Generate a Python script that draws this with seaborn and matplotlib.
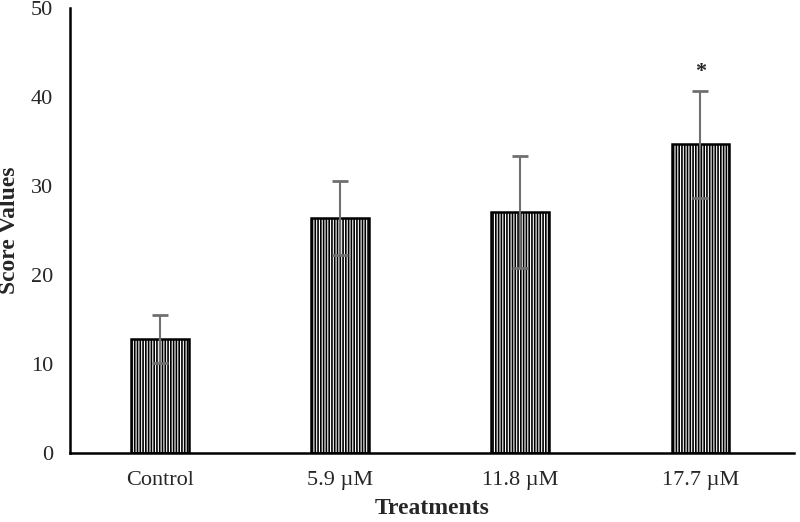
import pandas as pd
import matplotlib
matplotlib.use("Agg")
import matplotlib.pyplot as plt
import seaborn as sns

treatments = ["Control", "5.9 µM", "11.8 µM", "17.7 µM"]
scores = [12.8, 26.4, 27.1, 34.7]
errors = [2.7, 4.2, 6.3, 6.0]
signif = ["", "", "", "*"]

df = pd.DataFrame({"Treatments": treatments, "Score": scores})

sns.set_style("white")
plt.rcParams["font.family"] = ["Liberation Serif", "DejaVu Serif"]
plt.rcParams["hatch.linewidth"] = 1.2

fig = plt.figure(figsize=(8, 5.22), dpi=100)
ax = fig.add_axes([0.0875, 0.132, 0.905, 0.853])

sns.barplot(data=df, x="Treatments", y="Score", color="white", width=0.32,
            edgecolor="black", linewidth=1.8, errorbar=None, ax=ax)
for p in ax.patches:
    p.set_hatch("||||||")

x = range(len(treatments))
ax.errorbar(x, scores, yerr=errors, fmt="none", ecolor="#707070",
            elinewidth=1.5, capsize=6, capthick=2)
for i, s in enumerate(signif):
    if s:
        ax.text(i, scores[i] + errors[i] + 1.0, s, ha="center", va="bottom",
                fontsize=16, fontweight="bold")

ax.set_ylim(0, 50)
ax.set_xlim(-0.5, 3.52)
ax.set_yticks(range(0, 51, 10))
ax.tick_params(length=0, labelsize=16)
ax.tick_params(axis="x", pad=13)
ax.tick_params(axis="y", pad=12)
ax.set_xlabel("Treatments", fontsize=17, fontweight="bold", labelpad=6)
ax.set_ylabel("Score Values", fontsize=17, fontweight="bold", labelpad=8)
sns.despine(ax=ax)
for s in ["left", "bottom"]:
    ax.spines[s].set_linewidth(1.8)
    ax.spines[s].set_color("black")

fig.savefig("out.png", dpi=100)
